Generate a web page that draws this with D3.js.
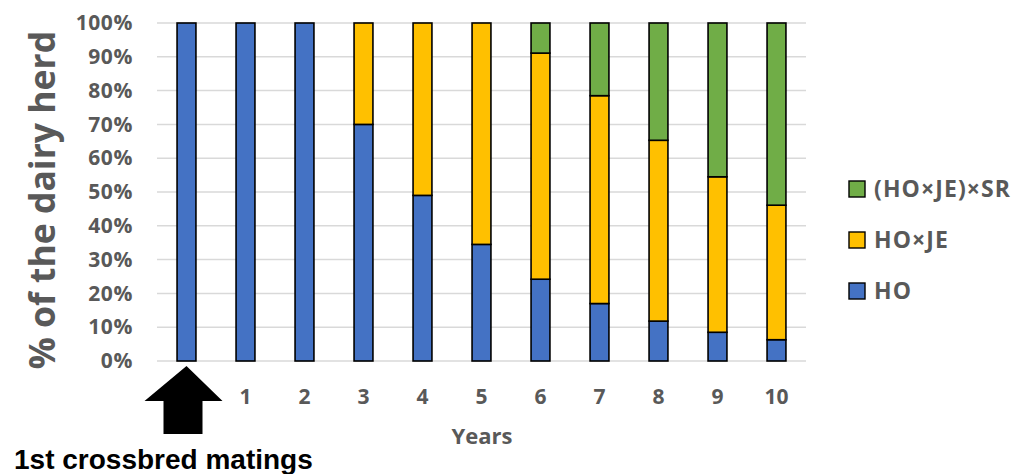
<!DOCTYPE html>
<html>
<head>
<meta charset="utf-8">
<script src="https://cdn.jsdelivr.net/npm/d3@7"></script>
<style>
  html, body { margin: 0; padding: 0; background: #fff; }
  svg { display: block; }
</style>
</head>
<body>
<svg id="chart" width="1014" height="474"></svg>
<script>
// Herd composition by year after the first crossbred matings (% of cows)
const years = ["0", "1", "2", "3", "4", "5", "6", "7", "8", "9", "10"];
const yearLabels = ["", "1", "2", "3", "4", "5", "6", "7", "8", "9", "10"];
const seriesNames = ["HO", "HO×JE", "(HO×JE)×SR"];
const hoValues   = [100, 100, 100, 70, 49, 34.5, 24.2, 17, 11.8, 8.5, 6.3];
const hoJeValues = [0, 0, 0, 30, 51, 65.5, 66.9, 61.5, 53.5, 46, 39.8];
const srValues   = [0, 0, 0, 0, 0, 0, 8.9, 21.5, 34.7, 45.5, 53.9];
const yTicks = [0, 10, 20, 30, 40, 50, 60, 70, 80, 90, 100];

const colors = { "HO": "#4472C4", "HO×JE": "#FFC000", "(HO×JE)×SR": "#70AD47" };
const grey = "#595959";
const font = "'Open Sans', 'DejaVu Sans', sans-serif";

const svg = d3.select("#chart");
const plot = { left: 157, right: 806, top: 23, bottom: 361 };

const rows = years.map((y, i) => ({
  year: y,
  "HO": hoValues[i],
  "HO×JE": hoJeValues[i],
  "(HO×JE)×SR": srValues[i]
}));
const stacked = d3.stack().keys(seriesNames)(rows);

const x = d3.scaleBand().domain(years).range([plot.left, plot.right]).paddingInner(0.68).paddingOuter(0.34);
const y = d3.scaleLinear().domain([0, 100]).range([plot.bottom, plot.top]);

// horizontal gridlines
svg.append("g")
  .selectAll("line")
  .data(yTicks)
  .join("line")
  .attr("x1", plot.left).attr("x2", plot.right)
  .attr("y1", d => y(d)).attr("y2", d => y(d))
  .attr("stroke", "#d9d9d9").attr("stroke-width", 1.5);

// y axis tick labels
const yAxis = svg.append("g")
  .attr("transform", `translate(${plot.left - 24},0)`)
  .call(d3.axisLeft(y).tickValues(yTicks).tickFormat(d => d + "%").tickSize(0).tickPadding(0));
yAxis.select(".domain").remove();
yAxis.selectAll("text")
  .attr("fill", grey).attr("font-family", font).attr("font-weight", "bold")
  .attr("font-size", 21).attr("letter-spacing", 0.6);

// stacked bars
svg.append("g")
  .selectAll("g")
  .data(stacked)
  .join("g")
  .attr("fill", d => colors[d.key])
  .selectAll("rect")
  .data(d => d.filter(s => s[1] - s[0] > 0))
  .join("rect")
  .attr("x", d => x(d.data.year))
  .attr("width", x.bandwidth())
  .attr("y", d => y(d[1]))
  .attr("height", d => y(d[0]) - y(d[1]))
  .attr("stroke", "#000").attr("stroke-width", 1.6);

// x axis tick labels
const xAxis = svg.append("g")
  .attr("transform", `translate(0,${plot.bottom + 28})`)
  .call(d3.axisBottom(x).tickFormat((d, i) => yearLabels[i]).tickSize(0).tickPadding(0));
xAxis.select(".domain").remove();
xAxis.selectAll("text")
  .attr("fill", grey).attr("font-family", font).attr("font-weight", "bold").attr("font-size", 21);

// axis titles
svg.append("text")
  .attr("x", 482).attr("y", 444)
  .attr("text-anchor", "middle")
  .attr("fill", grey).attr("font-family", font).attr("font-weight", "bold").attr("font-size", 22)
  .text("Years");

svg.append("text")
  .attr("transform", `translate(55,200) rotate(-90)`)
  .attr("text-anchor", "middle")
  .attr("fill", grey).attr("font-family", font).attr("font-weight", "bold").attr("font-size", 35.5)
  .text("% of the dairy herd");

// arrow marking the first crossbred matings
const ax = x("0") + x.bandwidth() / 2;
const tipY = plot.bottom + 5;
svg.append("path")
  .attr("d", d3.line()([
    [ax, tipY], [ax + 36, tipY + 35], [ax + 16, tipY + 35], [ax + 16, tipY + 68],
    [ax - 23, tipY + 68], [ax - 23, tipY + 35], [ax - 42, tipY + 35]
  ]) + "Z")
  .attr("fill", "#000");

svg.append("text")
  .attr("x", 14).attr("y", 469)
  .attr("fill", "#000").attr("font-family", "'Liberation Sans', Arial, sans-serif")
  .attr("font-weight", "bold").attr("font-size", 28)
  .text("1st crossbred matings");

// legend (top series first)
const legend = svg.append("g")
  .selectAll("g")
  .data(seriesNames.slice().reverse())
  .join("g")
  .attr("transform", (d, i) => `translate(849,${189 + i * 51})`);
legend.append("rect")
  .attr("x", 0).attr("y", -8).attr("width", 16).attr("height", 16)
  .attr("fill", d => colors[d]).attr("stroke", "#000").attr("stroke-width", 1.4);
legend.append("text")
  .attr("x", 25).attr("y", 8)
  .attr("fill", grey).attr("font-family", font).attr("font-weight", "bold")
  .attr("font-size", 23).attr("letter-spacing", 1.1)
  .text(d => d);
</script>
</body>
</html>
